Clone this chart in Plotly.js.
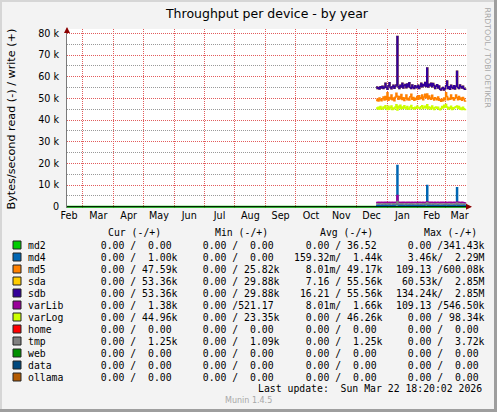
<!DOCTYPE html>
<html><head><meta charset="utf-8">
<script src="https://cdn.plot.ly/plotly-3.0.1.min.js"></script>
<style>
html,body{margin:0;padding:0;background:#F3F3F3;}
#wrap{position:relative;width:497px;height:412px;overflow:hidden;}
#chart{position:absolute;left:0;top:0;width:497px;height:412px;}
.b{position:absolute;}
</style></head>
<body>
<div id="wrap">
<div id="chart"></div>
<div class="b" style="left:0;top:0;width:497px;height:2px;background:#D6D6D6"></div>
<div class="b" style="left:0;top:0;width:2px;height:412px;background:#D6D6D6"></div>
<div class="b" style="right:0;top:0;width:3px;height:412px;background:#9E9E9E"></div>
<div class="b" style="left:0;bottom:0;width:497px;height:3px;background:#9E9E9E"></div>
</div>
<script>
// ---------- DATA ----------
const names  = ["md2","md4","md5","sda","sdb","varLib","varLog","home","tmp","web","data","ollama"];
const colors = ["#00CC00","#0066B3","#FF8000","#FFCC00","#330099","#990099","#CCFF00","#FF0000","#808080","#008F00","#00487D","#B35A00"];

const curRead  = ["0.00","0.00","0.00","0.00","0.00","0.00","0.00","0.00","0.00","0.00","0.00","0.00"];
const curWrite = ["0.00","1.00k","47.59k","53.36k","53.36k","1.38k","44.96k","0.00","1.25k","0.00","0.00","0.00"];
const minRead  = ["0.00","0.00","0.00","0.00","0.00","0.00","0.00","0.00","0.00","0.00","0.00","0.00"];
const minWrite = ["0.00","0.00","25.82k","29.88k","29.88k","521.17","23.35k","0.00","1.09k","0.00","0.00","0.00"];
const avgRead  = ["0.00","159.32m","8.01m","7.16","16.21","8.01m","0.00","0.00","0.00","0.00","0.00","0.00"];
const avgWrite = ["36.52","1.44k","49.17k","55.56k","55.56k","1.66k","46.26k","0.00","1.25k","0.00","0.00","0.00"];
const maxRead  = ["0.00","3.46k","109.13","60.53k","134.24k","109.13","0.00","0.00","0.00","0.00","0.00","0.00"];
const maxWrite = ["341.43k","2.29M","600.08k","2.85M","2.85M","546.50k","98.34k","0.00","3.72k","0.00","0.00","0.00"];

const yTickVals = [0,10,20,30,40,50,60,70,80];
const yTickText = ["0","10 k","20 k","30 k","40 k","50 k","60 k","70 k","80 k"];
const yMinorVals = [5,15,25,35,45,55,65,75];

// daily samples, Dec 21 2025 .. Mar 21 2026 (values in k bytes/s, write)
const firstDay = "2025-12-21";
const sdb = [
55.2,54.6,55.0,54.3,55.4,54.8,55.6,54.5,55.1,57.0,
55.0,54.2,55.8,57.2,55.0,54.4,55.3,56.0,54.7,55.5,
56.2,78.5,55.4,54.6,56.0,55.2,57.0,54.8,55.9,56.4,
54.9,56.6,55.3,57.2,55.0,54.5,56.2,55.1,54.6,55.8,
55.2,54.9,56.0,54.6,55.5,57.0,55.3,56.4,55.8,57.3,
55.5,64.0,55.2,56.5,55.8,57.0,55.4,56.8,55.9,54.5,
55.6,56.3,54.8,55.7,54.2,53.8,54.6,55.0,53.9,54.4,
55.8,58.0,54.6,55.3,54.2,56.0,55.1,54.5,55.8,54.3,
55.6,62.5,55.0,54.6,56.2,55.4,54.8,55.6,54.5,54.2,53.9];
const sda = sdb; // identical to sdb (same Cur/Avg/Max), hidden behind it
const md5 = [
49.0,49.6,48.8,50.2,49.3,48.9,49.8,50.6,49.2,50.8,
49.5,52.6,49.1,50.4,49.7,51.6,49.4,50.2,48.9,50.5,
52.4,51.0,49.6,50.8,49.8,51.8,49.5,50.3,49.0,50.1,
51.6,49.3,50.0,49.2,50.7,51.9,49.6,50.4,49.1,50.0,
49.5,50.8,49.6,51.2,49.8,50.3,51.5,49.4,50.6,51.9,
50.3,52.0,49.7,51.1,50.2,49.6,51.4,50.0,49.2,50.3,
49.8,49.4,50.6,49.1,49.5,48.7,49.6,48.9,50.2,49.3,
52.6,50.8,49.4,50.1,49.6,51.5,49.8,50.3,49.2,50.0,
51.6,50.4,49.3,50.8,49.6,50.2,49.1,50.4,49.7,48.8,49.0];
const varLog = [
45.6,45.2,45.9,45.0,46.2,45.4,45.1,46.0,45.5,46.6,
45.3,44.8,46.4,45.1,45.8,46.5,44.9,45.6,45.2,46.0,
47.0,44.6,46.3,45.5,46.8,45.2,46.0,45.4,46.6,45.8,
45.1,46.2,45.4,45.0,46.0,46.7,45.3,45.7,45.1,45.9,
45.4,46.3,45.6,45.8,45.2,46.1,46.6,45.3,45.9,46.4,
45.6,47.1,45.2,46.0,45.7,45.1,46.5,45.6,44.9,45.8,
46.0,45.4,45.9,45.0,44.7,45.3,46.2,45.6,46.8,45.9,
47.2,46.0,45.1,45.8,45.3,46.4,44.9,45.7,45.3,45.9,
46.1,46.5,45.4,46.2,45.0,45.6,44.8,45.9,45.2,44.9,45.0];
const md4 = [
0.6,0.4,0.8,0.5,0.7,0.3,0.9,0.6,0.5,1.1,
0.7,0.5,0.8,1.2,0.6,0.4,0.7,0.9,0.5,0.8,
1.0,19.0,0.8,0.6,0.9,0.5,1.1,0.7,0.6,0.8,
0.9,0.6,0.7,1.0,0.5,0.8,0.6,0.9,0.7,0.5,
0.8,0.6,1.0,0.7,0.5,0.9,0.6,0.8,0.7,1.1,
0.8,9.8,0.7,0.9,0.6,0.8,0.5,1.0,0.7,0.6,
0.8,0.6,0.9,0.5,0.7,0.6,0.8,0.5,0.9,0.7,
1.0,0.8,0.6,0.9,0.5,0.7,0.8,0.6,0.9,0.7,
0.8,8.7,0.6,0.9,0.7,0.5,0.8,0.6,0.9,0.7,1.0];
const varLib = [
1.9,1.8,2.0,1.7,1.9,2.1,1.8,1.9,2.0,1.8,
2.0,1.9,1.7,2.1,1.9,1.8,2.0,1.9,1.8,2.0,
2.1,5.2,1.9,2.0,1.8,1.9,2.1,1.8,2.0,1.9,
1.8,2.0,1.9,2.1,1.8,1.9,2.0,1.8,1.9,2.0,
1.9,1.8,2.0,1.9,2.1,1.8,1.9,2.0,1.8,1.9,
2.0,2.3,1.9,1.8,2.0,1.9,2.1,1.8,1.9,2.0,
1.8,1.9,2.0,1.8,1.9,2.1,1.8,2.0,1.9,1.8,
2.0,1.9,1.8,2.0,1.9,2.1,1.8,1.9,2.0,1.8,
1.9,2.2,1.8,2.0,1.9,1.8,2.0,1.9,1.8,1.7,1.4];
const tmp = [
1.3,1.2,1.3,1.4,1.2,1.3,1.3,1.2,1.4,1.3,
1.2,1.3,1.4,1.3,1.2,1.3,1.3,1.4,1.2,1.3,
1.3,2.4,1.3,1.2,1.3,1.4,1.3,1.2,1.3,1.3,
1.4,1.2,1.3,1.3,1.2,1.4,1.3,1.3,1.2,1.3,
1.3,1.4,1.2,1.3,1.3,1.2,1.3,1.4,1.3,1.2,
1.3,1.8,1.3,1.2,1.4,1.3,1.3,1.2,1.3,1.4,
1.3,1.2,1.3,1.3,1.4,1.2,1.3,1.3,1.2,1.3,
1.4,1.3,1.2,1.3,1.3,1.4,1.2,1.3,1.3,1.2,
1.3,1.7,1.3,1.2,1.3,1.4,1.3,1.2,1.3,1.3,1.25];
// md2 is ~0 for the whole year
const md2Dates = ["2025-02-13","2026-03-22"];
const md2 = [0,0];

// ---------- BUILD ----------
const days = [];
{ const d0 = new Date(firstDay+"T12:00:00Z");
  for (let i=0;i<sdb.length;i++){ const d=new Date(d0.getTime()+i*86400000); days.push(d.toISOString().slice(0,10)); } }

function tr(x,y,c,w){return {x:x,y:y,type:'scatter',mode:'lines',line:{color:c,width:w||1.5,shape:'hv'},hoverinfo:'skip'};}
const data = [
  tr(md2Dates, md2, colors[0], 2),
  tr(days, md4, colors[1]),
  tr(days, md5, colors[2]),
  tr(days, sda, colors[3]),
  tr(days, sdb, colors[4]),
  tr(days, varLib, colors[5]),
  tr(days, varLog, colors[6]),
  tr(days, tmp, colors[8])
];

const L=67, R=467, T=29, B=208;
const px = p => (p-L)/(R-L);
const py = p => (B-p)/(B-T);

const mono = {family:'DejaVu Sans Mono', size:9.8, color:'#000'};
function f(s){ let suf=' ', num=s; if(/[a-zA-Z]$/.test(s)){suf=s.slice(-1); num=s.slice(0,-1);} return num.padStart(6,' ')+suf; }
function col(r,w){ return (f(r)+'/'+f(w)).replace(/ /g,'\u00A0'); }
function ann(x,y,text,font,extra){ return Object.assign({xref:'paper',yref:'paper',x:px(x),y:py(y),text:text,showarrow:false,font:font,xanchor:'left',yanchor:'middle',borderpad:0},extra||{}); }

const annotations = [];
const shapes = [];
const colX = [88.3,190,293.3,395];
const headX = [107,213.7,319,423.3];
const heads = ["Cur\u00A0(-/+)","Min\u00A0(-/+)","Avg\u00A0(-/+)","Max\u00A0(-/+)"];
heads.forEach((h,i)=>annotations.push(ann(headX[i],232.3,h,mono)));
names.forEach((n,i)=>{
  const y = 245 + 12*i;
  shapes.push({type:'rect',xref:'paper',yref:'paper',x0:px(13),x1:px(21),y0:py(y-4),y1:py(y+4),fillcolor:colors[i],line:{color:'#222',width:1}});
  annotations.push(ann(27,y,n,mono));
  annotations.push(ann(colX[0],y,col(curRead[i],curWrite[i]),mono));
  annotations.push(ann(colX[1],y,col(minRead[i],minWrite[i]),mono));
  annotations.push(ann(colX[2],y,col(avgRead[i],avgWrite[i]),mono));
  annotations.push(ann(colX[3],y,col(maxRead[i],maxWrite[i]),mono));
});
annotations.push(ann(483,388.5,'Last update:\u00A0 Sun Mar 22 18:20:02 2026',mono,{xanchor:'right'}));
annotations.push(ann(224,401,'Munin 1.4.5',{family:'DejaVu Sans',size:8,color:'#A8A8A8'}));
annotations.push(ann(11,119.5,'Bytes/second read (-) / write (+)',{family:'DejaVu Sans',size:11.2,color:'#000'},{xanchor:'center',textangle:-90}));
annotations.push(ann(487.5,58,'RRDTOOL / TOBI OETIKER',{family:'DejaVu Sans',size:7.8,color:'#A8A8A8'},{xanchor:'center',textangle:90}));
// axis arrows
annotations.push({xref:'paper',yref:'paper',x:0,y:py(27),ax:0,ay:7,showarrow:true,arrowhead:2,arrowsize:1,arrowwidth:1.2,arrowcolor:'#8B0000',text:''});
annotations.push({xref:'paper',yref:'paper',x:px(472),y:py(206.7),ax:-7,ay:0,showarrow:true,arrowhead:2,arrowsize:1,arrowwidth:1.2,arrowcolor:'#8B0000',text:''});
// zero rule
shapes.push({type:'line',xref:'paper',yref:'y',x0:0,x1:px(469),y0:0,y1:0,line:{color:'#000',width:1},layer:'above'});

const gridRed = '#E25C5C';
const layout = {
  width:497, height:412,
  margin:{l:L,r:497-R,t:T,b:412-B,pad:0},
  paper_bgcolor:'#F3F3F3', plot_bgcolor:'#FFFFFF',
  showlegend:false,
  title:{text:'Throughput per device - by year',font:{family:'DejaVu Sans',size:12.5,color:'#000'},x:0.5,xref:'paper',xanchor:'center',y:1-14/412,yref:'container',yanchor:'middle'},
  xaxis:{type:'date',range:['2025-02-13','2026-03-22 12:00'],dtick:'M1',tick0:'2025-01-01',tickformat:'%b',ticklabelmode:'period',
         showgrid:true,gridcolor:gridRed,griddash:'1px,1px',gridwidth:1,ticks:'',showline:false,zeroline:false,
         tickfont:{family:'DejaVu Sans',size:9.6,color:'#000'},fixedrange:true},
  yaxis:{range:[-0.6,82],tickvals:yTickVals,ticktext:yTickText,showgrid:true,gridcolor:gridRed,griddash:'1px,1px',gridwidth:1,
         minor:{tickvals:yMinorVals,showgrid:true,gridcolor:'#999999',griddash:'1px,1px',gridwidth:1,ticks:''},
         showline:true,linecolor:'#7A7A7A',linewidth:1,ticks:'',zeroline:false,ticklabelstandoff:5,
         tickfont:{family:'DejaVu Sans',size:9.6,color:'#000'},fixedrange:true},
  annotations:annotations, shapes:shapes
};
Plotly.newPlot('chart',data,layout,{staticPlot:true,displayModeBar:false});
</script>
</body></html>
